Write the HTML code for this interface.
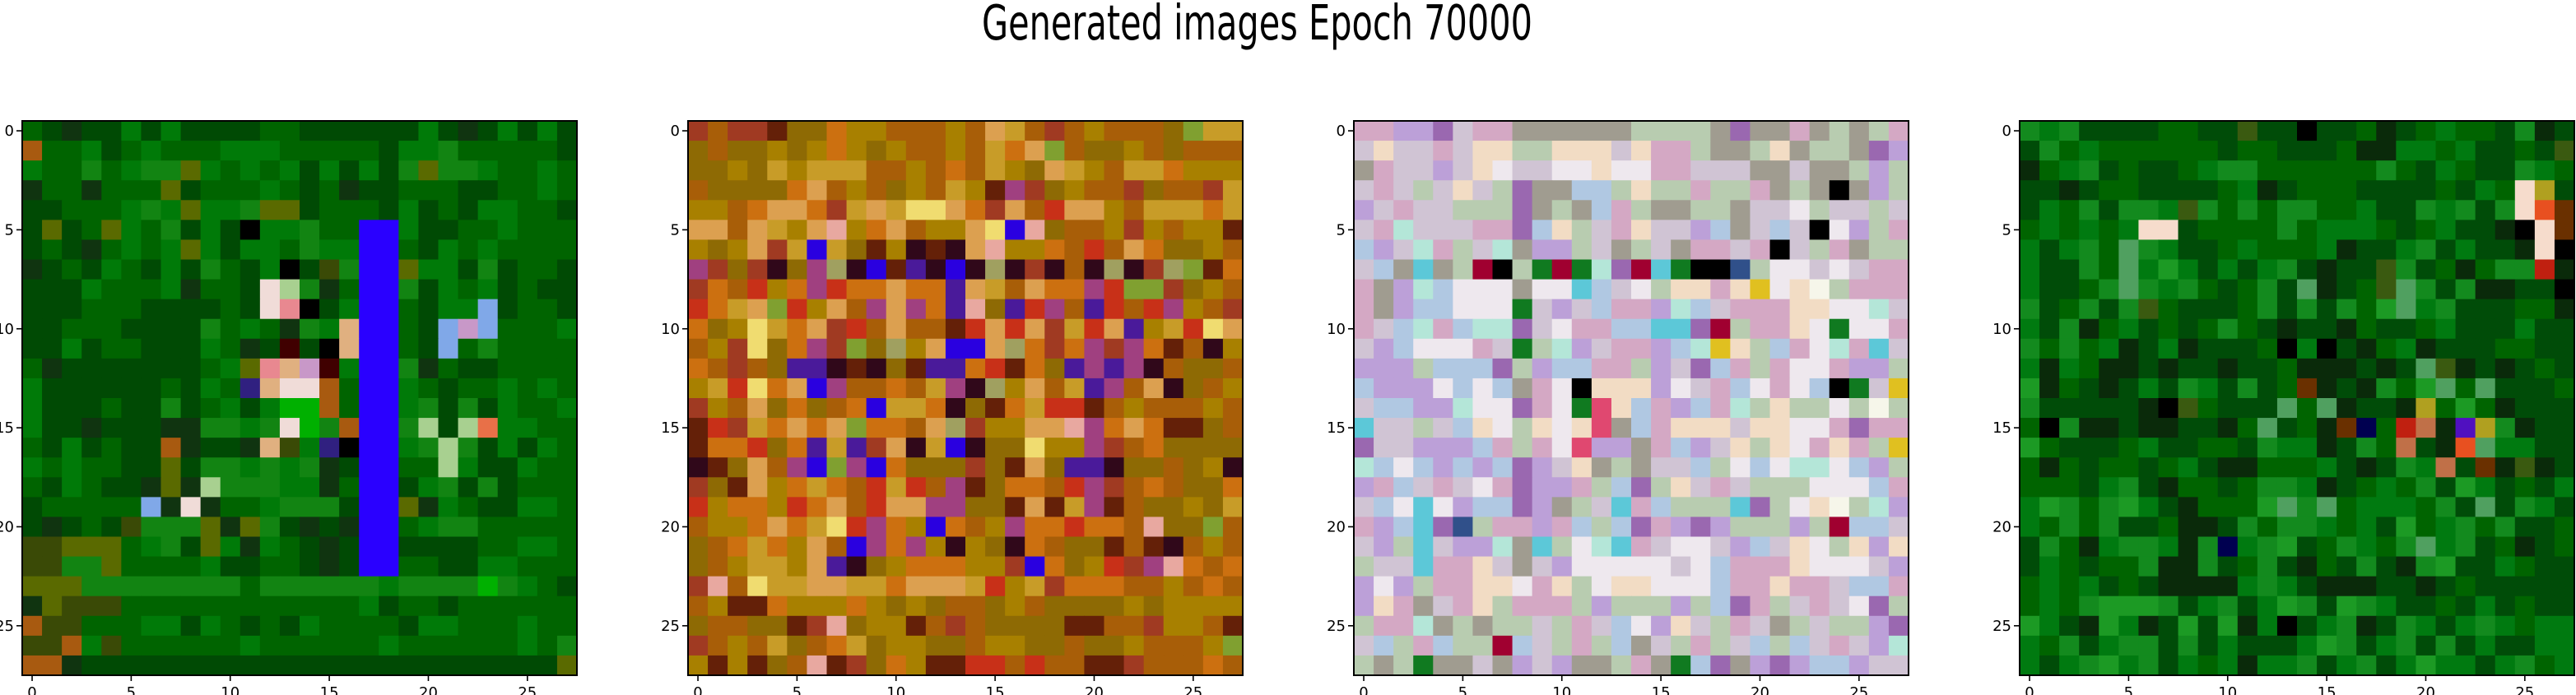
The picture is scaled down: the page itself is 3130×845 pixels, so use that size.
<!DOCTYPE html>
<html><head><meta charset="utf-8">
<style>
html,body{margin:0;padding:0;background:#fff;width:3130px;height:845px;overflow:hidden}
svg{display:block}
text{font-family:"DejaVu Sans","Liberation Sans",sans-serif;fill:#000}
</style></head>
<body>
<svg id="fig" width="3130" height="845" viewBox="0 0 3130 845">
<text x="1193" y="48" font-size="59" textLength="669" lengthAdjust="spacingAndGlyphs">Generated images Epoch 70000</text>
</svg>
<script>
const tickValues=[0,5,10,15,20,25];
const panelLefts=[27,836,1645,2454];
const pal1={a:'#006400',b:'#004a04',c:'#007a08',d:'#128412',e:'#103410',o:'#5a6a00',y:'#3a4a06',B:'#2a00ff',P:'#e88890',T:'#e0b080',W:'#f0dcd8',k:'#000000',g:'#a8d090',L:'#80a8e8',Q:'#c898c8',r:'#400000',V:'#302080',n:'#a85a10',G:'#00b000',O:'#e87048'};
const img1=[
"abebbcbcbbbbaabbbbbbcbebcbcb","naacbacaaacccaaaaabccdaaaaab","caadacddocacacbcbcbdoddcaac","eaaeaaaobaaacabaebbaaabbaac",
"bbaaacdcoccdoobaaabcbabccaab","bobaocadbcbkccdaaBBcbbaacaaa","babeacacocbccadccBBabcacaaaa","ebabcabcbdabckbydBBoccbdbaab",
"bbbcaaaceaabWgdeaBBdbcacbabb","bbbaaabbbbabWPkbcBBabccLbaab","bbaaabbbbdacaedcTBBabLQLaaac","bbcbaabbbcaebrbkTBBabLadaaaa",
"aebbbbbbbacoPTQrcBBdeabbaaaa","cbbbbbbabcaVTWWnaBBcabaacaca","cbbbabbdbacbcGGnaBBcdbdbcaac","cbbebbbeeddcdWGdnBBdgbgOccaa",
"abcbabbnebbeTycVkBBcdgdbcbca","cacaabbobddcdcdebBBaagcbbcaa","abcabbeoegdddcceaBBbcdbdbaaa","baaaaaLeWeaacdddbBBoecabbcca",
"bebabydddoeodbebeBBacddaaaaa","yyoooacdbocecabebBBbbbbaacca","yyddoaaaacbbaabebBBaabbccaaa","oooddddddddaddddddcddddGdcab",
"eoyyyaaaaaaaaaaaacbaabaaaaaa","nyyaaaccbcababcaaaabccaaacaa","yyncyaaaaaacaaaaaacaaaaaacad","nnebbbbbbbbbbbbbbbbbbbbbbbbo"];
const pal2={O:'#a85e08',G:'#a88000',Y:'#c89c28',R:'#a03a22',o:'#cc7010',L:'#dca050',M:'#8e6a04',V:'#4a1a9a',B:'#2a00e0',K:'#30081a',r:'#c83018',P:'#a04080',l:'#80a030',D:'#642008',W:'#f0dc70',S:'#e8a8a0',g:'#a0a060'};
const img2=[
"RORRDMMoGGOOOGOLYOROGOOOMlYY","MOMMGMGoGMGOOGOYoLlOMMGOMOOO","MMGMYGYYYOOGOoOYGMLYGOYYoGGG","OMMMMoLOGOMGOYGDPRMGOORMOORY",
"GGOoLLoRYLYWWLoRLOrLLGOYYYoY","LLOLYGLSGoLOGGLWBSMOOGRGOGGD","GMGLRYBYMDGKDKLSGGoOrOLoMMGO","PRMRKMPgKBDVKBKgKRKOKgKRglDo",
"RoOrGoProoLooVLYOLooPrllRMGO","roYLlrGLOPLPoVSMVrPOVrOrPGOR","oMGWYoLRrOLOODrLrLRYrLVGYrWL","OGRWMoPRlMgGLBBLgoRoPRPoDOKG",
"oOROMVVKDKMDVVorDoMVPVPKOMMO","GYrWoLBPOOoOYPKgGLOYVPOLKMOG","RGOLMoMOoBYYoKMDoYrrDOGOOOGO","DrRYoLoLlooOLgRGGLLSPoLoDDMO",
"DoorMoVYVRLKYBKMMWGGPROoMMMM","KDMLOPBlPBoMMMRMDLMVVKMMOMGK","RMDLGoYoOrYrOPDMooOrPROoOMMo","rGooGroLOrLLPPMMDLDYPDOMMGMY",
"OGGoLoYWrPoGBoOGPoorooOSMMlO","MOoYoGLOBPoPGKGMKoOMMDODKOGO","MOGYYGLVKMGoooGGRBoMGrRPSoOo","RSOWYYLLYYoLLLYrGYRoooOOGOoO",
"OGDDoGGGoGMGMOOMGOMMMMGMGGGG","MOOMMDRSMGGDOROMMMMDDOORGGOD","ROGOYMOoYMGGMMOGGMMOMMGOOOGl","GDGDMOSDRMoGDDrrOrOODDROOOoO"];
const pal3={p:'#d0c4d4',w:'#eee8ee',v:'#bca0d8',g:'#b8ccb0',m:'#d4a8c4',t:'#b4e6d8',b:'#b0c8e2',d:'#a09c90',k:'#000000',r:'#a00030',G:'#107a20',c:'#5cc8d8',y:'#e0c020',P:'#9a68b0',e:'#f2dcc4',M:'#e04870',W:'#f6f6ea',B:'#30508a'};
const img3=[
"mmvvPpmmddddddggggdPddmdgdgm","peppmpeeggeeepemmgddgedggdPv","dmppvpewppwwewwmmpppddpddgvg","pmpgpepgPddbbgeggmggmdgdkdvg",
"vpmppgggPdgdbmgddggdppwgppgp","pmtpppmmPbegpmeppvbdpbpkwvgm","bvptmgptdvvgpdgpdmmpmkpgmdgg","pbdcdgrkgGrGtPrcGkkBgwwpwpmm",
"mdvtbwwwdwwcbpwgeemeyweWgmmm","mdvbbwwwGpvpbmmvtbpmmmeewwtp","mpbtmbttPpwmmbbccPrgmmewGwwm","pvbwwwmpGgtvpmmvbtyegbmwtmcp",
"vvvgbbbPgvbbmmgvpPbmgmwwmvvg","bvvvwbwbdmwkeeevwpmbwmwbkGpy","pbbvvtwwPmwGMebmvbmtgeggwgWg","cppgpbewgeweMdbmeeepeewwmPmm",
"PppvvvbmgmwMvvdmbvpegewmemgy","tbwbvbvbPvpedgdppbgwbwttwbvg","vmbpmpwmPvvmgbPgepmpgggwwwbm","pbwcwvbbPvdgpcmbgggcPgweWgtv",
"mvbcPBgmmvmbgbPmvPvgggvgrbbp","pvgcpvvtdcgwtcmpwwpvbpewgeve","gppcmmepdpvwwwwwpwbmmmewwwpv","vwvgmmeewmegweewwwbmmemmpbbm",
"vemdpmegmmmgvgggvgbPmgpmpwPg","gmmtdgdggpgmpbwvepgmpdgpggvP","pbgmbggrbpgmgbdpgmgpbgbpmpvt","gdgGddpdvpvddgmdGbPdvPvbbvpp"];
const pal4={a:'#006400',b:'#004c08',c:'#007a10',d:'#138a1e',e:'#0a2a0a',y:'#3a5a10',k:'#000000',W:'#f6dccc',O:'#e85020',R:'#c02010',V:'#5010c0',Y:'#b0a020',T:'#c07048',N:'#000050',t:'#50a060',g:'#1c9a24',B:'#6a3000'};
const img4=[
"dcdbbbbaabbybbkbbaebacoabdeb","bdacaaaaaabaabbbaeeccacbbaby","eacdbabbacddaaaaoadobcabbdcay","bbebaabbbbacebaaabbbbabcaWYb",
"bcadbddcydadaddaacbbdcdbdWOB","acacacWWbaaaadacccabacbbekWB","cbcdatdcbbacaaacebbcdbcbbeWk","cbbdatcgcbcbcdbebbydbaeaddRe",
"cbbadtdcdabadbtebaytdbdeebbk","dbadbdyabbbadbdbdagtcdbbbaae","cbdeacbabadabebbeabbacbbbcbb","dadacebcebbbakckbeacebbbaabb",
"cecaeebebbebbaeeebebtyebebab","geabebcbdcbdbaBebedagtatbbba","dbbbbbekyabbbtatebbeYagaebbb","akdeebeebbeatbaeBNaRTeVYdebb",
"gabbbacbbaabdccebdaTbeOtccbb","aeabaabacbeeaaacbebdcTbBeyeb","aaabcdbeaabaddcebacadbgcbabc","cgdadgcbeaaagtdtacccadbtbdcb",
"cadadbbaeebdaddcacbgacdadbba","bdaecddcedNcdgbadcadtcdbaeba","bcabaadeedbadbeabdbedgbbcabb","acacbabeeeecdcbeeebbebabbbbb",
"acadgggdbcdbcgdbgdcbbabcbabb","gcbegcebgbgeckbcdebdcbcdcacc","cadbcddbdbcbbbcgdbcdbdbcbbcc","cbcdgcdbcaceccdbcdbcgccbcdoc"];
const images=[[img1,pal1],[img2,pal2],[img3,pal3],[img4,pal4]];
const N=28, TOP=147, SIZE=674, CELL=SIZE/N;
const svg=document.getElementById('fig');
const NS='http://www.w3.org/2000/svg';
function xScale(p,i){return panelLefts[p]+i*CELL;}
function yScale(j){return TOP+j*CELL;}
images.forEach(([rows,pal],p)=>{
  const g=document.createElementNS(NS,'g');
  
  
  svg.appendChild(g);
  const base=Object.keys(pal)[0];
  for(let j=0;j<N;j++){
    const s=(rows[j]||'').replace(/\s/g,'');
    for(let i=0;i<N;i++){
      let ch=s[i]; if(!ch||!pal[ch]) ch=base;
      const r=document.createElementNS(NS,'rect');
      
      
      r.setAttribute('x',xScale(p,i));r.setAttribute('y',yScale(j));
      r.setAttribute('width',CELL+0.6);r.setAttribute('height',CELL+0.6);
      r.setAttribute('fill',pal[ch]);
      g.appendChild(r);
    }
  }
  const f=document.createElementNS(NS,'rect');
  
  
  f.setAttribute('x',panelLefts[p]);f.setAttribute('y',TOP);
  f.setAttribute('width',SIZE);f.setAttribute('height',SIZE);
  f.setAttribute('fill','none');f.setAttribute('stroke','#000');f.setAttribute('stroke-width','2');
  g.appendChild(f);
  tickValues.forEach(v=>{
    const cx=xScale(p,v)+CELL/2, cy=yScale(v)+CELL/2;
    const tx=document.createElementNS(NS,'line');
    
    
    tx.setAttribute('x1',cx);tx.setAttribute('x2',cx);tx.setAttribute('y1',TOP+SIZE);tx.setAttribute('y2',TOP+SIZE+7);
    tx.setAttribute('stroke','#000');tx.setAttribute('stroke-width','1.6');g.appendChild(tx);
    const lx=document.createElementNS(NS,'text');
    
    
    lx.setAttribute('x',cx);lx.setAttribute('y',TOP+SIZE+27);lx.setAttribute('font-size','18');lx.setAttribute('text-anchor','middle');
    lx.textContent=v;g.appendChild(lx);
    const ty=document.createElementNS(NS,'line');
    
    
    ty.setAttribute('x1',panelLefts[p]-7);ty.setAttribute('x2',panelLefts[p]);ty.setAttribute('y1',cy);ty.setAttribute('y2',cy);
    ty.setAttribute('stroke','#000');ty.setAttribute('stroke-width','1.6');g.appendChild(ty);
    const ly=document.createElementNS(NS,'text');
    
    
    ly.setAttribute('x',panelLefts[p]-10);ly.setAttribute('y',cy+6);ly.setAttribute('font-size','18');ly.setAttribute('text-anchor','end');
    ly.textContent=v;g.appendChild(ly);
  });
});
</script>
</body></html>
